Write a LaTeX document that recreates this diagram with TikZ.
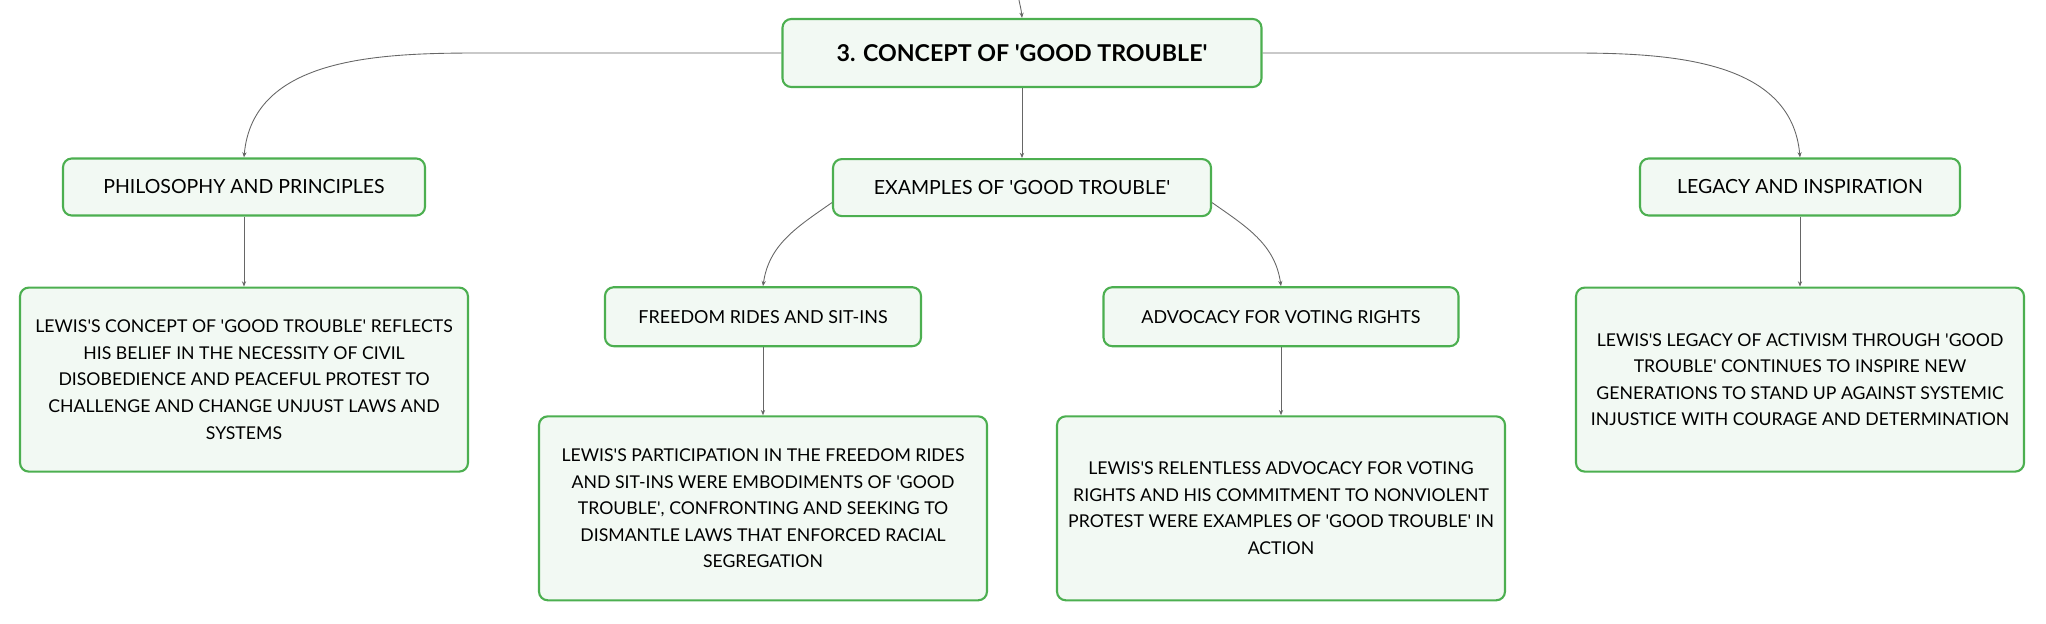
\documentclass[tikz,border=0pt]{standalone}
\usepackage{fontspec}
\setmainfont{Lato}
\usetikzlibrary{arrows.meta, positioning}
\definecolor{leafgreen}{HTML}{4CAF50}
\definecolor{mintwhite}{HTML}{F2F9F3}
\definecolor{linkgray}{HTML}{666666}
\newcommand{\tick}{\textquotesingle}

\begin{document}
\begin{tikzpicture}[node distance=1.4cm]
\tikzstyle{topic} = [rectangle, rounded corners=5pt, line width=1.2pt, draw=leafgreen, fill=mintwhite, text centered, font=\fontsize{11.1}{13}\selectfont, minimum height=1.14cm]
\tikzstyle{subtopic} = [topic, minimum height=1.18cm, font=\fontsize{10.2}{12}\selectfont]
\tikzstyle{detail} = [topic, minimum width=8.96cm, minimum height=3.68cm, align=center, font=\fontsize{10.05}{15.1}\selectfont]
\tikzstyle{link} = [-{Stealth[length=3pt,width=2.4pt]}, draw=linkgray, line width=0.5pt]

\useasboundingbox (0,0) rectangle (40.92,-12.48);

\node (concept) [topic, minimum width=9.58cm, minimum height=1.36cm, font=\fontsize{13.2}{15}\selectfont\bfseries] at (20.44,-1.06) {3. CONCEPT OF \tick GOOD TROUBLE\tick};
\coordinate (parent) at (20.36,0.1);

\node (examples) [topic, minimum width=7.56cm, below=of concept] {EXAMPLES OF \tick GOOD TROUBLE\tick};
\node (philo) [topic, minimum width=7.24cm] at (4.88,-3.74) {PHILOSOPHY AND PRINCIPLES};
\node (legacy) [topic, minimum width=6.4cm] at (36.0,-3.74) {LEGACY AND INSPIRATION};

\node (philotext) [detail, below=of philo] {LEWIS\tick S CONCEPT OF \tick GOOD TROUBLE\tick{} REFLECTS\\HIS BELIEF IN THE NECESSITY OF CIVIL\\DISOBEDIENCE AND PEACEFUL PROTEST TO\\CHALLENGE AND CHANGE UNJUST LAWS AND\\SYSTEMS};
\node (legacytext) [detail, below=of legacy] {LEWIS\tick S LEGACY OF ACTIVISM THROUGH \tick GOOD\\TROUBLE\tick{} CONTINUES TO INSPIRE NEW\\GENERATIONS TO STAND UP AGAINST SYSTEMIC\\INJUSTICE WITH COURAGE AND DETERMINATION};

\node (freedom) [subtopic, minimum width=6.32cm, below=1.38cm of examples, xshift=-5.18cm] {FREEDOM RIDES AND SIT-INS};
\node (advocacy) [subtopic, minimum width=7.1cm, below=1.38cm of examples, xshift=5.18cm] {ADVOCACY FOR VOTING RIGHTS};

\node (freedomtext) [detail, below=1.36cm of freedom] {LEWIS\tick S PARTICIPATION IN THE FREEDOM RIDES\\AND SIT-INS WERE EMBODIMENTS OF \tick GOOD\\TROUBLE\tick, CONFRONTING AND SEEKING TO\\DISMANTLE LAWS THAT ENFORCED RACIAL\\SEGREGATION};
\node (advocacytext) [detail, below=1.36cm of advocacy] {LEWIS\tick S RELENTLESS ADVOCACY FOR VOTING\\RIGHTS AND HIS COMMITMENT TO NONVIOLENT\\PROTEST WERE EXAMPLES OF \tick GOOD TROUBLE\tick{} IN\\ACTION};

% connectors
\draw[link] (parent) to[out=-80,in=95] (concept.north);
\draw[link] (concept.west) -- ++(-6.0,0) to[out=180,in=85] (philo.north);
\draw[link] (concept.east) -- ++(6.18,0) to[out=0,in=95] (legacy.north);
\draw[link] (concept) -- (examples);
\draw[link] ([yshift=-0.3cm]examples.west) to[out=215,in=82] (freedom.north);
\draw[link] ([yshift=-0.3cm]examples.east) to[out=-35,in=98] (advocacy.north);
\draw[link] (philo) -- (philotext);
\draw[link] (legacy) -- (legacytext);
\draw[link] (freedom) -- (freedomtext);
\draw[link] (advocacy) -- (advocacytext);

\end{tikzpicture}
\end{document}
